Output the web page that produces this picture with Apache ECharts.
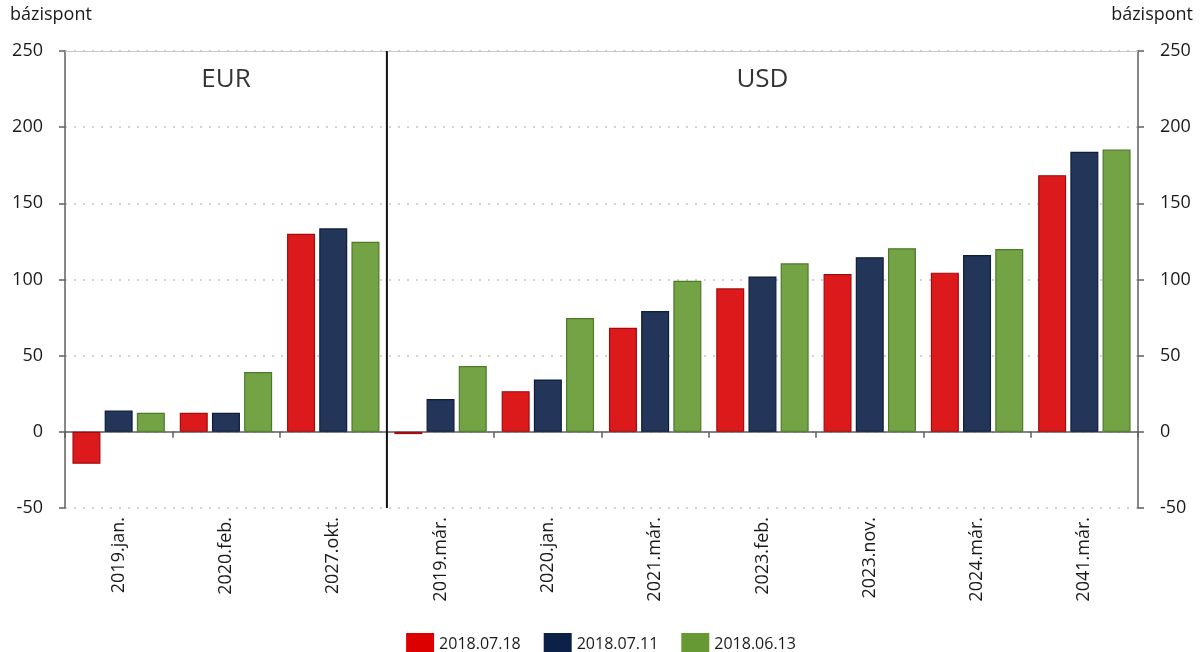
<!DOCTYPE html>
<html>
<head>
<meta charset="utf-8">
<script src="https://cdn.jsdelivr.net/npm/echarts@6/dist/echarts.min.js"></script>
<style>html,body{margin:0;padding:0;background:#fff}#c{width:1202px;height:652px}</style>
</head>
<body>
<div id="c"></div>
<script>
const categories = ['2019.jan.','2020.feb.','2027.okt.','2019.már.','2020.jan.','2021.már.','2023.feb.','2023.nov.','2024.már.','2041.már.'];
const seriesNames = ['2018.07.18','2018.07.11','2018.06.13'];
const s0718 = [-21, 12.5, 130, -1.5, 26.7, 68.3, 94.2, 103.6, 104.5, 168.5];
const s0711 = [14, 12.5, 133.6, 21.5, 34.4, 79.3, 102, 114.6, 116.1, 183.8];
const s0613 = [12.5, 39.2, 124.8, 43.2, 74.7, 99.2, 110.6, 120.5, 120, 185.3];
const groupLabels = [[1.5, 231, 'EUR'], [6.5, 231, 'USD']];
const separatorAt = 3;
const yTicks = {min: -50, max: 250, interval: 50};

const FONT = '"Open Sans"';
const fills = ['#DC1A1C', '#233659', '#74A346'];
const borders = ['#A30C0E', '#0E1D3C', '#4D7A29'];
const legendColors = ['#DD0000', '#0C2148', '#669933'];

const chart = echarts.init(document.getElementById('c'), null, {renderer: 'canvas'});
const bar = (name, data, i) => ({
  name, type: 'bar', data, xAxisIndex: 0, yAxisIndex: 0,
  barWidth: 28, barGap: '15%',
  itemStyle: {color: fills[i], borderColor: borders[i], borderWidth: 1.2},
  emphasis: {disabled: true}
});
chart.setOption({
  animation: false,
  textStyle: {fontFamily: FONT},
  grid: {left: 65, right: 64, top: 51, bottom: 144},
  legend: {
    top: 628, left: 'center', itemWidth: 28, itemHeight: 22, itemGap: 23, icon: 'rect',
    textStyle: {fontFamily: FONT, fontSize: 16, color: '#1a1a1a'},
    data: seriesNames.map((n, i) => ({name: n, itemStyle: {color: legendColors[i], borderWidth: 0}}))
  },
  graphic: [
    {type: 'text', left: 10, top: 6, style: {text: 'bázispont', font: '18px ' + FONT, fill: '#1a1a1a'}},
    {type: 'text', right: 9, top: 6, style: {text: 'bázispont', font: '18px ' + FONT, fill: '#1a1a1a'}}
  ],
  xAxis: [
    {type: 'category', data: categories, position: 'bottom',
     axisLine: {lineStyle: {color: '#5f5f5f', width: 1.5}},
     axisTick: {show: true, length: 6, lineStyle: {color: '#5f5f5f', width: 1.5}},
     axisLabel: {rotate: 90, margin: 9, fontSize: 18, fontFamily: FONT, color: '#1a1a1a'},
     splitLine: {show: false}},
    {type: 'value', min: 0, max: 10, position: 'top',
     axisLine: {show: true, onZero: false, lineStyle: {color: '#c8c8c8', width: 1}},
     axisTick: {show: false}, axisLabel: {show: false}, splitLine: {show: false}}
  ],
  yAxis: [
    {type: 'value', min: yTicks.min, max: yTicks.max, interval: yTicks.interval, position: 'left',
     axisLine: {show: true, onZero: false, lineStyle: {color: '#5f5f5f', width: 1.5}},
     axisTick: {show: true, length: 6, lineStyle: {color: '#5f5f5f', width: 1.5}},
     axisLabel: {margin: 22, fontSize: 18, fontFamily: FONT, color: '#1a1a1a'},
     splitLine: {show: true, lineStyle: {color: '#c4c4c4', type: [2, 7], width: 1.5}}},
    {type: 'value', min: yTicks.min, max: yTicks.max, interval: yTicks.interval, position: 'right',
     axisLine: {show: true, onZero: false, lineStyle: {color: '#5f5f5f', width: 1.5}},
     axisTick: {show: true, length: 6, lineStyle: {color: '#5f5f5f', width: 1.5}},
     axisLabel: {margin: 22, fontSize: 18, fontFamily: FONT, color: '#1a1a1a'},
     splitLine: {show: false}}
  ],
  series: [
    bar(seriesNames[0], s0718, 0),
    bar(seriesNames[1], s0711, 1),
    bar(seriesNames[2], s0613, 2),
    {type: 'line', xAxisIndex: 1, yAxisIndex: 0, data: [[separatorAt, yTicks.min], [separatorAt, yTicks.max]],
     symbol: 'none', lineStyle: {color: '#111', width: 2}, silent: true, z: 5},
    {type: 'scatter', xAxisIndex: 1, yAxisIndex: 0, symbolSize: 0, data: groupLabels, silent: true,
     label: {show: true, position: 'inside', formatter: p => p.data[2], fontSize: 26, fontFamily: FONT, color: '#000'}}
  ]
});
</script>
</body>
</html>
